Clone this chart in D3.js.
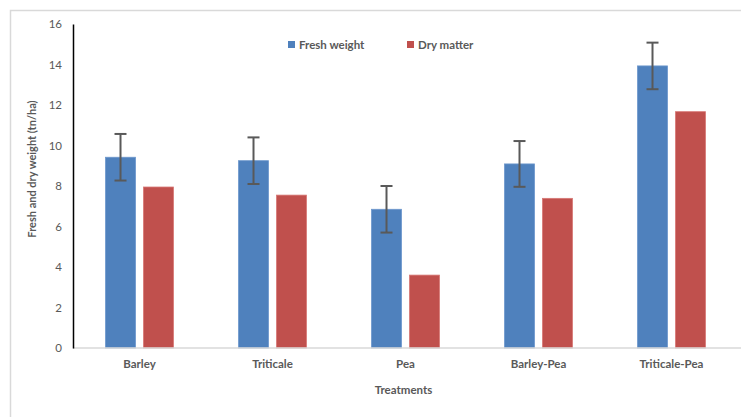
<!DOCTYPE html>
<html>
<head>
<meta charset="utf-8">
<script src="https://cdn.jsdelivr.net/npm/d3@7"></script>
<style>
  body { margin: 0; background: #fff; }
  text { font-family: Lato, 'Open Sans', sans-serif; fill: #595959; }
  .lbl { font-weight: bold; }
</style>
</head>
<body>
<div id="chart"></div>
<script>
'use strict';
// Chart data
const treatments = ['Barley', 'Triticale', 'Pea', 'Barley-Pea', 'Triticale-Pea']
const seriesNames = ['Fresh weight', 'Dry matter']
const freshWeight = [9.42, 9.25, 6.85, 9.09, 13.93]
const freshErr = [1.15, 1.15, 1.15, 1.13, 1.15]
const dryMatter = [7.95, 7.55, 3.6, 7.39, 11.67]
const yTicks = [0, 2, 4, 6, 8, 10, 12, 14, 16]
const colors = ['#4F81BD', '#C0504D']

const W = 741, H = 417
const margin = { top: 24, left: 73, bottom: 69, right: 3 }

const svg = d3.select('#chart').append('svg')
  .attr('width', W)
  .attr('height', H)

// Outer chart border
svg.append('rect')
  .attr('x', 10.5).attr('y', 10.5)
  .attr('width', W).attr('height', H)
  .attr('fill', 'none')
  .attr('stroke', '#d9d9d9')
  .attr('stroke-width', 1.5)

const x = d3.scaleBand().domain(treatments).range([margin.left, margin.left + 665])
const y = d3.scaleLinear().domain([0, 16]).range([H - margin.bottom, margin.top])
const xs = d3.scaleBand().domain(seriesNames).range([0, 68]).paddingInner(0.21)

const rows = treatments.map((t, i) => ({ t, vals: [freshWeight[i], dryMatter[i]], err: freshErr[i] }))

// Bars
const groups = svg.append('g').selectAll('g').data(rows).join('g')
  .attr('transform', d => `translate(${x(d.t) + (x.bandwidth() - 68) / 2},0)`)

groups.selectAll('rect').data(d => d.vals.map((v, k) => ({ k, v }))).join('rect')
  .attr('x', d => xs(seriesNames[d.k]))
  .attr('width', xs.bandwidth())
  .attr('y', d => y(d.v))
  .attr('height', d => y(0) - y(d.v))
  .attr('fill', d => colors[d.k])
  .attr('stroke', d => d.k === 0 ? '#6d97cc' : '#d77875')
  .attr('stroke-width', 0.8)

// Error bars on fresh weight
const eb = groups.append('g')
  .attr('stroke', '#595959')
  .attr('stroke-width', 2)
const cx = xs(seriesNames[0]) + xs.bandwidth() / 2
eb.append('line')
  .attr('x1', cx).attr('x2', cx)
  .attr('y1', d => y(d.vals[0] + d.err))
  .attr('y2', d => y(d.vals[0] - d.err))
eb.append('line')
  .attr('x1', cx - 6).attr('x2', cx + 6)
  .attr('y1', d => y(d.vals[0] + d.err))
  .attr('y2', d => y(d.vals[0] + d.err))
eb.append('line')
  .attr('x1', cx - 6).attr('x2', cx + 6)
  .attr('y1', d => y(d.vals[0] - d.err))
  .attr('y2', d => y(d.vals[0] - d.err))

// X axis
const xAxis = svg.append('g')
  .attr('transform', `translate(0,${y(0)})`)
  .call(d3.axisBottom(x).tickSize(0).tickPadding(12))
xAxis.select('.domain').attr('stroke', '#d9d9d9').attr('stroke-width', 1.5)
  .attr('d', `M${margin.left},0H${W}`)
xAxis.selectAll('text').attr('class', 'lbl').style('font-size', '11.5px')

// Y axis
const yAxis = svg.append('g')
  .attr('transform', `translate(${margin.left},0)`)
  .call(d3.axisLeft(y).tickValues(yTicks).tickSize(0).tickPadding(11))
yAxis.select('.domain').attr('stroke', '#000').attr('stroke-width', 1.5)
yAxis.selectAll('text').style('font-size', '11.5px')

// Axis titles
svg.append('text')
  .attr('class', 'lbl')
  .attr('x', x.range()[0] + 665 / 2 - 2)
  .attr('y', 394)
  .attr('text-anchor', 'middle')
  .style('font-size', '11.5px')
  .text('Treatments')

svg.append('text')
  .attr('class', 'lbl')
  .attr('transform', 'translate(36,169) rotate(-90)')
  .attr('text-anchor', 'middle')
  .style('font-size', '11px')
  .text('Fresh and dry weight (tn/ha)')

// Legend
const legendX = [288, 407]
const legend = svg.append('g').selectAll('g').data(seriesNames).join('g')
  .attr('transform', (d, i) => `translate(${legendX[i]},41)`)
legend.append('rect')
  .attr('width', 7).attr('height', 7)
  .attr('fill', (d, i) => colors[i])
legend.append('text')
  .attr('class', 'lbl')
  .attr('x', 11).attr('y', 7.5)
  .style('font-size', '11.5px')
  .text(d => d)
</script>
</body>
</html>
